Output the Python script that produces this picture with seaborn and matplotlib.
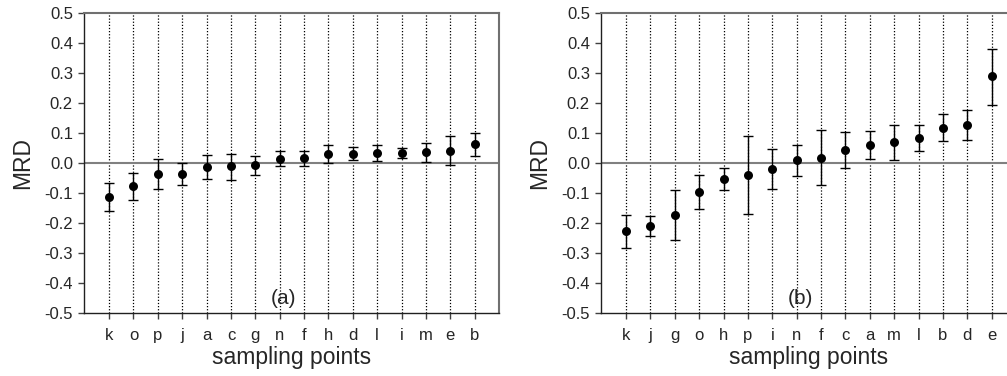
import numpy as np
import pandas as pd
import matplotlib
matplotlib.use("Agg")
import matplotlib.pyplot as plt
import seaborn as sns

# ---- data: panel (a) ----
cats_a = ["k", "o", "p", "j", "a", "c", "g", "n", "f", "h", "d", "l", "i", "m", "e", "b"]
mrd_a = [-0.113, -0.078, -0.035, -0.035, -0.013, -0.011, -0.008, 0.015, 0.017, 0.031, 0.031, 0.033, 0.035, 0.036, 0.041, 0.062]
upper_a = [-0.065, -0.033, 0.015, 0.000, 0.026, 0.030, 0.022, 0.040, 0.040, 0.060, 0.052, 0.059, 0.051, 0.066, 0.090, 0.099]
lower_a = [-0.161, -0.123, -0.085, -0.072, -0.054, -0.055, -0.041, -0.011, -0.009, 0.000, 0.009, 0.007, 0.016, 0.002, -0.008, 0.023]

# ---- data: panel (b) ----
cats_b = ["k", "j", "g", "o", "h", "p", "i", "n", "f", "c", "a", "m", "l", "b", "d", "e"]
mrd_b = [-0.227, -0.209, -0.172, -0.097, -0.052, -0.040, -0.020, 0.010, 0.018, 0.043, 0.061, 0.069, 0.084, 0.117, 0.128, 0.289]
upper_b = [-0.172, -0.176, -0.089, -0.041, -0.016, 0.090, 0.047, 0.060, 0.109, 0.103, 0.108, 0.127, 0.127, 0.162, 0.178, 0.381]
lower_b = [-0.282, -0.243, -0.258, -0.152, -0.089, -0.170, -0.087, -0.042, -0.072, -0.016, 0.014, 0.011, 0.040, 0.072, 0.078, 0.194]

yticks = [0.5, 0.4, 0.3, 0.2, 0.1, 0.0, -0.1, -0.2, -0.3, -0.4, -0.5]
panel_labels = ["(a)", "(b)"]

sns.set_style("white")
plt.rcParams["font.family"] = ["Liberation Sans", "DejaVu Sans"]

fig = plt.figure(figsize=(10.07, 3.76), dpi=100)
W, H = 1007, 376
ax_a = fig.add_axes([84 / W, 63 / H, 415 / W, 300 / H])
ax_b = fig.add_axes([601 / W, 63 / H, 415 / W, 300 / H])

def draw(ax, cats, mrd, upper, lower, label):
    df = pd.DataFrame({"cat": cats, "mrd": mrd})
    x = np.arange(len(cats))
    # vertical dotted guide lines
    for xi in x:
        ax.axvline(xi, color="black", linestyle=(0, (1, 1.5)), linewidth=0.9, zorder=1)
    ax.axhline(0, color="#808080", linewidth=1.5, zorder=1)
    mrd_arr = np.array(mrd)
    yerr = np.vstack([mrd_arr - np.array(lower), np.array(upper) - mrd_arr])
    ax.errorbar(x, mrd_arr, yerr=yerr, fmt="none", ecolor="black",
                elinewidth=1.0, capsize=3.5, capthick=1.0, zorder=2)
    sns.scatterplot(data=df, x="cat", y="mrd", ax=ax, color="black", s=42,
                    edgecolor="black", linewidth=0, zorder=3, legend=False)
    ax.set_xlim(-1.03, len(cats) - 0.0)
    ax.set_ylim(-0.5, 0.5)
    ax.set_yticks(yticks)
    ax.set_yticklabels([f"{v:.1f}".replace("-0.0", "0.0") for v in yticks])
    ax.set_xticks(x)
    ax.set_xticklabels(cats)
    ax.tick_params(axis="both", direction="out", length=4, width=1, labelsize=12,
                   color="#404040", left=True, bottom=True)
    ax.tick_params(axis="x", pad=7)
    ax.tick_params(axis="y", pad=4)
    for side in ["left", "bottom"]:
        ax.spines[side].set_color("#202020")
        ax.spines[side].set_linewidth(1.0)
    for side in ["top", "right"]:
        ax.spines[side].set_color("#707070")
        ax.spines[side].set_linewidth(1.5)
    ax.set_xlabel("sampling points", fontsize=16.5, labelpad=2)
    ax.set_ylabel("MRD", fontsize=16.5, labelpad=7)
    ax.text(7.15, -0.485, label, ha="center", va="bottom", fontsize=15)

draw(ax_a, cats_a, mrd_a, upper_a, lower_a, panel_labels[0])
draw(ax_b, cats_b, mrd_b, upper_b, lower_b, panel_labels[1])

fig.savefig("out.png", dpi=100)
